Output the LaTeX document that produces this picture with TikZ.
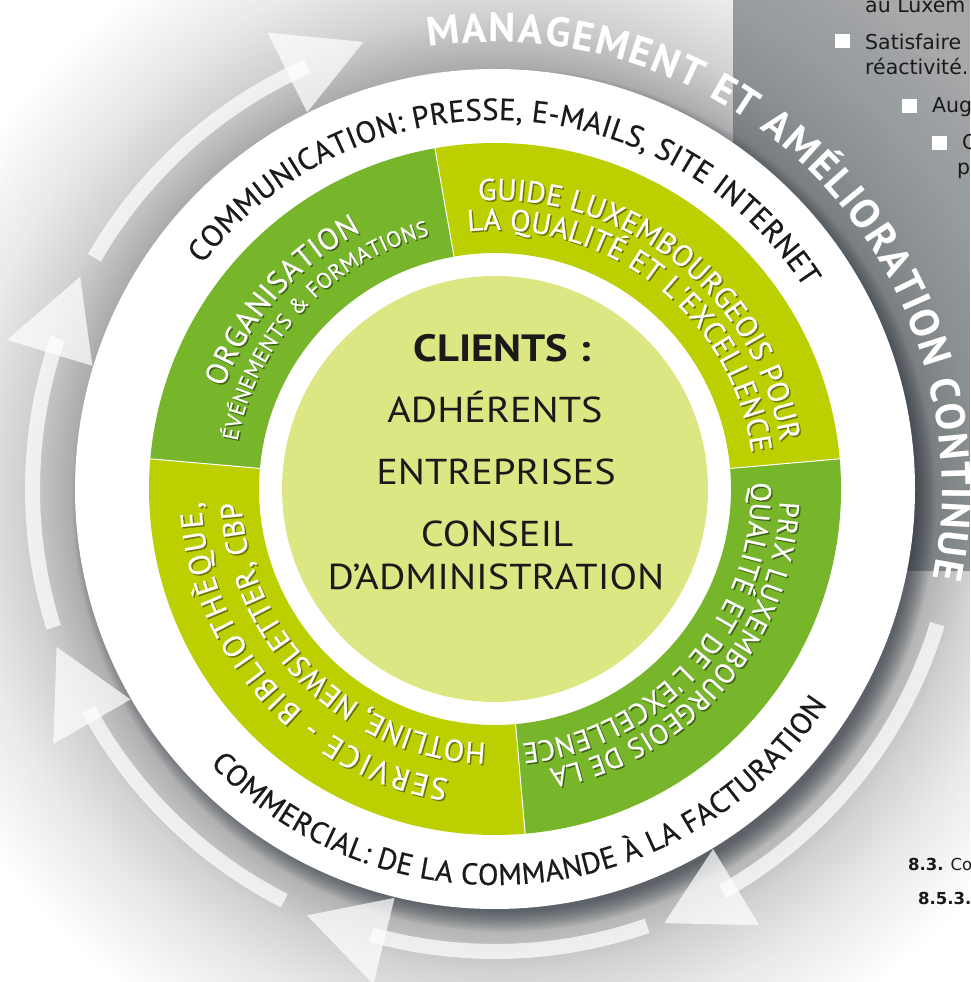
\documentclass[tikz,border=0pt]{standalone}
\usepackage{graphicx}
\usepackage{fontspec}
\setmainfont{PT Sans}
\newfontfamily\ringfont{PT Sans}[FakeBold=0.6]
\newfontfamily\panelfont{DejaVu Sans}
\usetikzlibrary{decorations.text}
\definecolor{dkgreen}{HTML}{77B52B}
\definecolor{ygreen}{HTML}{BCCF00}
\definecolor{lightc}{HTML}{DCE784}
\definecolor{panelgrey}{HTML}{A8A7A9}
\definecolor{shadec}{HTML}{1C2630}
\definecolor{dkshadow}{HTML}{3E6412}
\definecolor{yshadow}{HTML}{6A7500}
\definecolor{ink}{HTML}{1A1A1A}
\tikzset{
  arrowpart/.style={fill=white, fill opacity=0.72},
  ctext/.style={font=\fontsize{36pt}{36pt}\selectfont, text=ink, inner sep=0pt, anchor=base},
  paneltxt/.style={font=\panelfont\fontsize{20.5pt}{20.5pt}\selectfont, text=ink, inner sep=0pt, anchor=base west},
  refnum/.style={font=\panelfont\fontsize{16.5pt}{16.5pt}\selectfont, text=ink, inner sep=0pt, anchor=base west},
  bulletsq/.style={fill=white}
}
\newcommand{\ringtext}[5]{\path[decorate,decoration={text along path,text={|#1|#5},text align={fit to path}}] (#3:#2pt) arc[start angle=#3,end angle=#4,radius=#2pt];}
\newcommand{\ringtextsh}[6]{\begin{scope}[xshift=1.4pt,yshift=-1.4pt]\ringtext{#2\color{#1}}{#3}{#4}{#5}{#6}\end{scope}\ringtext{#2\color{white}}{#3}{#4}{#5}{#6}}
\newcommand{\arrowstrip}[2]{\fill[arrowpart] (#1:455pt) arc[start angle=#1,end angle=#2,radius=455pt] -- (#2:470pt) arc[start angle=#2,end angle=#1,radius=470pt] -- cycle;}
\newcommand{\arrowtip}[2]{\fill[arrowpart] (#1:421pt) -- (#1:510pt) -- (#2:466pt) -- cycle;}
\newcommand{\ringsector}[3]{\fill[#1] (#2:346pt) arc[start angle=#2,end angle=#3,radius=346pt] -- (#3:236pt) arc[start angle=#3,end angle=#2,radius=236pt] -- cycle;}
\newcommand{\wider}[1]{\scalebox{1.12}[1]{#1}}
\newcommand{\rf}[1]{\ringfont\fontsize{#1pt}{#1pt}\selectfont}
\begin{document}
\begin{tikzpicture}[x=1pt,y=1pt]
\useasboundingbox (0,0) rectangle (970,982);
\begin{scope}
\clip (0,0) rectangle (970,982);
\fill[white] (0,0) rectangle (970,982);
% side panel of the page
\fill[panelgrey] (733,411) rectangle (970,982);
% soft grey halo around the wheel
\begin{scope}[shift={(499,489)}]
\foreach \r in {616,609,601,594,586,579,571,563,556,548,538,533,528,523,518,513,508,503,498,493,488,483,479,476,473,471,468,465,462,460,457,454,451,449,446,443,440,438,435,432,430,427,424,421,418}
  \fill[shadec, opacity=0.0092] (0,0) circle[radius=\r pt];
\end{scope}
% drop shadow of the white disc
\begin{scope}[shift={(504,482)}]
\foreach \i [evaluate=\i as \rr using 412+1.4*\i] in {0,...,14}
  \fill[shadec, opacity=0.042] (0,0) circle[radius=\rr pt];
\end{scope}
% panel texts
\fill[bulletsq] (835,934) rectangle (850,948);
\fill[bulletsq] (902,869) rectangle (917,883);
\fill[bulletsq] (932,832) rectangle (947,846);
\node[paneltxt] (p1) at (865,969) {au Luxem};
\node[paneltxt] (p2) at (865,932) {Satisfaire};
\node[paneltxt] (p3) at (865,907) {réactivité.};
\node[paneltxt] (p4) at (932,869) {Aug};
\node[paneltxt] (p5) at (962,832) {C};
\node[paneltxt] (p6) at (957,807) {p};
\node[refnum] (r1) at (908,111) {\textbf{8.3.} Co};
\node[refnum] (r2) at (918,77) {\textbf{8.5.3.}};
\coordinate (C) at (495,493);
\begin{scope}[shift={(495,493)}]
% circular arrows
\arrowstrip{150}{114}\arrowtip{116.5}{106.4}
\arrowstrip{197.4}{161}\arrowtip{163}{152.9}
\arrowstrip{242.9}{208.5}\arrowtip{210}{199.8}
\arrowstrip{289.2}{254.5}\arrowtip{256.2}{246.2}
\arrowstrip{343}{299.5}\arrowtip{301.2}{291.3}
% white disc
\fill[white] (0,0) circle[radius=420pt];
% green ring
\ringsector{dkgreen}{100}{175}
\ringsector{ygreen}{175}{275}
\ringsector{dkgreen}{275}{365}
\ringsector{ygreen}{5}{100}
\foreach \a in {5,100,175,275}
  \draw[white, line width=1pt] (\a:235pt) -- (\a:347pt);
\fill[lightc] (0,0) circle[radius=213pt];
% outer texts
\ringtext{\fontsize{41pt}{41pt}\selectfont\bfseries\color{white}}{447}{98.6}{-11.5}{MANAGEMENT ET AMÉLIORATION CONTINUE}
\ringtext{\rf{30.5}\color{ink}}{369}{142.5}{33}{COMMUNICATION: PRESSE, E-MAILS, SITE INTERNET}
\ringtext{\rf{30}\color{ink}}{396}{224}{327}{COMMERCIAL: DE LA COMMANDE À LA FACTURATION}
% ring texts
\ringtextsh{dkshadow}{\rf{30.5}}{290}{159.5}{117.5}{ORGANISATION}
\ringtextsh{dkshadow}{\rf{22}}{262}{169.5}{104.5}{ÉVÉNEMENTS {\&} FORMATIONS}
\ringtextsh{yshadow}{\rf{30}}{289}{93.3}{9.5}{GUIDE LUXEMBOURGEOIS POUR}
\ringtextsh{yshadow}{\rf{30}}{259}{96}{8}{LA QUALITÉ ET L'EXCELLENCE}
\ringtextsh{dkshadow}{\rf{27.8}}{285}{-2.5}{-79}{PRIX LUXEMBOURGEOIS DE LA}
\ringtextsh{dkshadow}{\rf{28.5}}{256}{1.5}{-84}{QUALITÉ ET DE L'EXCELLENCE}
\ringtextsh{yshadow}{\rf{31}}{294}{261}{182.5}{SERVICE - BIBLIOTHÈQUE,}
\ringtextsh{yshadow}{\rf{30}}{254}{268}{183}{HOTLINE, NEWSLETTER, CBP}
\end{scope}
% centre texts
\node[ctext, font=\fontsize{38pt}{38pt}\selectfont\bfseries] (clients) at (502,620) {\wider{CLIENTS :}};
\node[ctext] (adh) at (495,559) {\wider{ADHÉRENTS}};
\node[ctext] (ent) at (496,497) {\wider{ENTREPRISES}};
\node[ctext] (cons) at (497,435) {\wider{CONSEIL}};
\node[ctext] (admin) at (496,392) {\wider{D'ADMINISTRATION}};
\end{scope}
\end{tikzpicture}
\end{document}
